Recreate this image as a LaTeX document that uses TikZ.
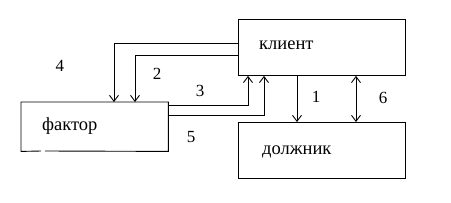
\documentclass[tikz,border=0pt]{standalone}
\usepackage{fontspec}
\setmainfont{Liberation Serif}
\newfontfamily\tnr{Liberation Serif}
\usetikzlibrary{arrows.meta}
\begin{document}
\begin{tikzpicture}[x=1pt,y=-1pt,
  box/.style={draw, line width=0.9pt, anchor=north west, inner sep=0pt},
  conn/.style={draw, line width=0.9pt, -{Straight Barb[length=6pt,width=9pt]}},
  lbl/.style={font=\tnr\fontsize{17}{17}\selectfont, inner sep=0pt},
  txt/.style={font=\tnr\fontsize{18.5}{18.5}\selectfont, inner sep=0pt, anchor=west}]
\useasboundingbox[fill=white] (0,0) rectangle (451,202);
\node[box, minimum width=167.5pt, minimum height=56.5pt] (client) at (237.5,18.5) {};
\node[box, minimum width=167.5pt, minimum height=56pt] (debtor) at (237.5,122) {};
\node[minimum width=147pt, minimum height=49pt, anchor=north west, inner sep=0pt] (factor) at (21,102) {};
\draw[line width=0.9pt] (41,151) -- (factor.south west) -- (factor.north west) -- (factor.north east) -- (factor.south east) -- (45,151);
\node[txt] at (259,45) {клиент};
\node[txt] at (42,126) {фактор};
\node[txt] at (262,152) {должник};
\coordinate (c4) at (114,43);
\coordinate (c2) at (135,55);
\coordinate (c3) at (248,105);
\coordinate (c5) at (264,115);
\draw[conn] (client.west |- c4) -| (c4 |- factor.north);
\draw[conn] (client.west |- c2) -| (c2 |- factor.north);
\draw[conn] (factor.east |- c3) -| (c3 |- client.south);
\draw[conn] (factor.east |- c5) -| (c5 |- client.south);
\coordinate (c1) at (297,0);
\coordinate (c6) at (356,0);
\draw[conn] (c1 |- client.south) -- (c1 |- debtor.north);
\draw[conn, {Straight Barb[length=6pt,width=9pt]}-{Straight Barb[length=6pt,width=9pt]}] (c6 |- client.south) -- (c6 |- debtor.north);
\node[lbl] (l4) at (60,66) {4};
\node[lbl] (l2) at (157,74) {2};
\node[lbl] (l3) at (200,91) {3};
\node[lbl] (l5) at (191,137) {5};
\node[lbl] (l1) at (316,97) {1};
\node[lbl] (l6) at (383,98) {6};
\end{tikzpicture}
\end{document}
